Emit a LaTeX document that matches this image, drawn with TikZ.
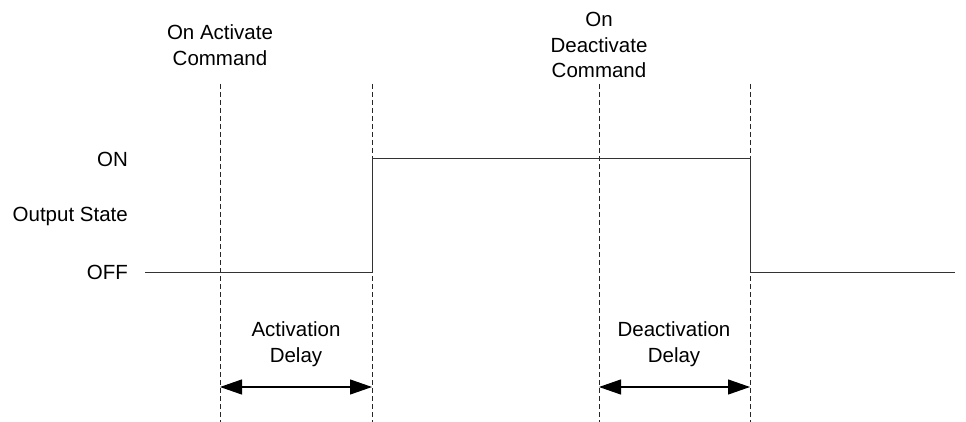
\documentclass[tikz,border=0pt]{standalone}
\usepackage{fontspec}
\setmainfont{Liberation Sans}
\usetikzlibrary{arrows.meta}
\begin{document}
\begin{tikzpicture}[x=1pt,y=-1pt,
  lbl/.style={font=\fontsize{20.5}{25.5}\selectfont, align=center, inner sep=0pt},
  guide/.style={draw=black!85, line width=0.8pt, dash pattern=on 5pt off 3pt},
  sig/.style={draw=black!80, line width=1pt},
  dim/.style={draw=black, line width=1.1pt, {Triangle[length=22pt,width=15pt]}-{Triangle[length=22pt,width=15pt]}}]
\useasboundingbox (0,0) rectangle (966,422);
% guide lines
\coordinate (g1t) at (220,84); \coordinate (g1b) at (220,422);
\coordinate (g2t) at (372,84); \coordinate (g2b) at (372,422);
\coordinate (g3t) at (599,84); \coordinate (g3b) at (599,422);
\coordinate (g4t) at (750,84); \coordinate (g4b) at (750,422);
\draw[guide] (g1t) -- (g1b);
\draw[guide] (g2t) -- (g2b);
\draw[guide] (g3t) -- (g3b);
\draw[guide] (g4t) -- (g4b);
% signal
\coordinate (s0) at (145,272);
\coordinate (s1) at (372,272);
\coordinate (s2) at (372,159);
\coordinate (s3) at (750,159);
\coordinate (s4) at (750,272);
\coordinate (s5) at (955,272);
\draw[sig] (s0) -- (s1) -- (s2) -- (s3) -- (s4) -- (s5);
% labels
\node[lbl, anchor=east] (on) at (128,159) {ON};
\node[lbl, anchor=east] (os) at (128,216) {Output State};
\node[lbl, anchor=east] (off) at (128,272) {OFF};
\node[lbl] (act) at (220,45) {On Activate\\Command};
\node[lbl] (deact) at (599,45) {On\\Deactivate\\Command};
\node[lbl] (ad) at (296,344) {Activation\\Delay};
\node[lbl] (dd) at (674,344) {Deactivation\\Delay};
% dimension arrows
\coordinate (a1) at (220,387); \coordinate (a2) at (372,387);
\coordinate (d1) at (599,387); \coordinate (d2) at (750,387);
\draw[dim] (a1) -- (a2);
\draw[dim] (d1) -- (d2);
\end{tikzpicture}
\end{document}
